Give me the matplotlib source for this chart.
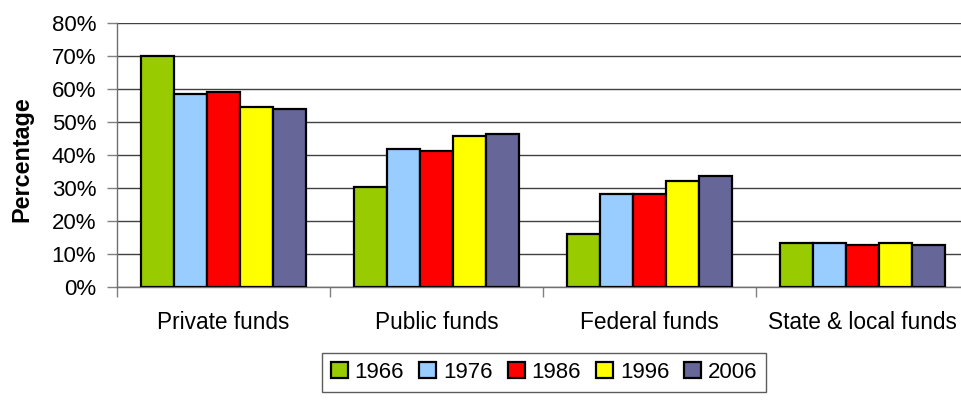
import matplotlib
matplotlib.use("Agg")
import matplotlib.pyplot as plt
import numpy as np
from matplotlib.ticker import FuncFormatter, FixedLocator

categories = ["Private funds", "Public funds", "Federal funds", "State & local funds"]
years = ["1966", "1976", "1986", "1996", "2006"]
values = {
    "1966": [70.0, 30.2, 16.1, 13.4],
    "1976": [58.5, 41.8, 28.2, 13.4],
    "1986": [59.2, 41.1, 28.2, 12.8],
    "1996": [54.5, 45.8, 32.1, 13.4],
    "2006": [53.9, 46.4, 33.6, 12.7],
}
colors = ["#99CC00", "#99CCFF", "#FF0000", "#FFFF00", "#666699"]
yticks = [0, 10, 20, 30, 40, 50, 60, 70, 80]

plt.rcParams['font.family'] = ['Liberation Sans', 'DejaVu Sans']

fig = plt.figure(figsize=(9.61, 4.0), dpi=100)
L, R, B, T = 117, 969, 287, 23
ax = fig.add_axes([L / 961, 1 - B / 400, (R - L) / 961, (B - T) / 400])

x = np.arange(len(categories))
w = 0.154
for i, yr in enumerate(years):
    ax.bar(x + (i - 2) * w, values[yr], width=w, color=colors[i],
           edgecolor="black", linewidth=1.6, label=yr, zorder=3)

ax.set_xlim(-0.5, len(categories) - 0.5)
ax.set_ylim(0, 80)
ax.set_yticks(yticks)
ax.yaxis.set_major_formatter(FuncFormatter(lambda v, p: f"{int(v)}%"))
ax.grid(axis="y", color="#404040", linewidth=1.0, zorder=1)
ax.set_axisbelow(True)

ax.set_xticks(x)
ax.set_xticklabels(categories)
ax.xaxis.set_minor_locator(FixedLocator(np.arange(-0.5, len(categories), 1.0)))
ax.tick_params(axis="x", which="major", length=0, pad=17, labelsize=16.3)
ax.tick_params(axis="x", which="minor", length=7, width=1, color="#808080")
ax.tick_params(axis="y", length=7, width=1, color="#808080", pad=8, labelsize=16)

for s in ["top", "right"]:
    ax.spines[s].set_visible(False)
for s in ["left", "bottom"]:
    ax.spines[s].set_color("#707070")
    ax.spines[s].set_linewidth(1.0)

fig.text(22 / 961, 1 - 159 / 400, "Percentage", rotation=90, fontsize=16.8,
         fontweight="bold", ha="center", va="center")

leg = fig.legend(loc="upper left", bbox_to_anchor=(322 / 961, 1 - 353 / 400),
                 ncol=5, frameon=True, fancybox=False, fontsize=16,
                 handlelength=0.77, handleheight=0.77, handletextpad=0.3,
                 columnspacing=0.68, borderpad=0.4, borderaxespad=0)
leg.get_frame().set_edgecolor("#333333")
leg.get_frame().set_linewidth(1.0)

fig.savefig("out.png", dpi=100)
